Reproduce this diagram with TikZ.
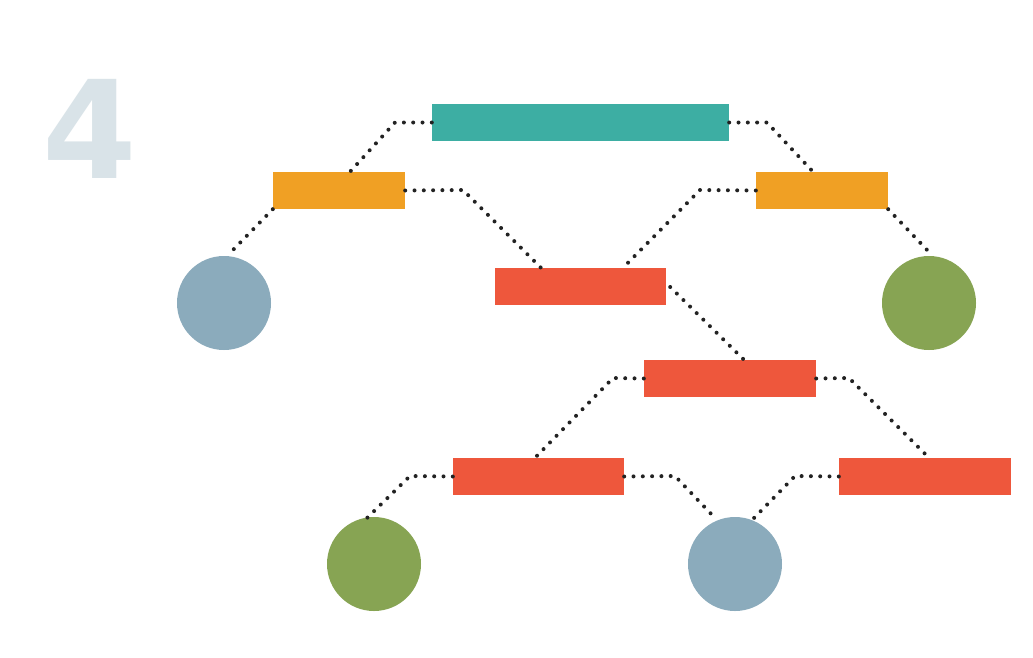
\documentclass[tikz,border=0pt]{standalone}
\usepackage{fontspec}
\newfontfamily\numfont{DejaVu Sans}
\definecolor{teal4}{HTML}{3DAEA3}
\definecolor{orange4}{HTML}{F0A024}
\definecolor{red4}{HTML}{EE573C}
\definecolor{blue4}{HTML}{8BABBC}
\definecolor{green4}{HTML}{87A453}
\definecolor{num4}{HTML}{D9E3E8}
\definecolor{dot4}{HTML}{222222}
\begin{document}
\begin{tikzpicture}[x=1pt,y=-1pt,
  bar/.style={rectangle,inner sep=0pt,minimum height=37pt,draw=none},
  disc/.style={circle,inner sep=0pt,minimum size=94pt,draw=none},
  link/.style={dot4,line width=4pt,line cap=round,dash pattern=on 0pt off 9.3pt}]
\useasboundingbox (0,0) rectangle (1033,657);
\fill[white] (0,0) rectangle (1033,657);
\node[text=num4,inner sep=0pt,anchor=base,font=\numfont\bfseries\fontsize{136}{136}\selectfont] (num) at (90,178) {4};
% bars
\node[bar,fill=teal4,minimum width=297pt] (top) at (580.5,122.5) {};
\node[bar,fill=orange4,minimum width=132pt] (ol) at (339,190.5) {};
\node[bar,fill=orange4,minimum width=132pt] (or) at (822,190.5) {};
\node[bar,fill=red4,minimum width=171pt] (r1) at (580.5,286.5) {};
\node[bar,fill=red4,minimum width=172pt] (r2) at (730,378.5) {};
\node[bar,fill=red4,minimum width=171pt] (r3) at (538.5,476.5) {};
\node[bar,fill=red4,minimum width=172pt] (r4) at (925,476.5) {};
% circles
\node[disc,fill=blue4] (c1) at (224,303) {};
\node[disc,fill=green4] (c2) at (929,303) {};
\node[disc,fill=green4] (c3) at (374,564) {};
\node[disc,fill=blue4] (c4) at (735,564) {};
% connector bends and ends
\coordinate (a1) at (395,122.5);
\coordinate (a2) at (767,122.5);
\coordinate (b1) at (463,190);
\coordinate (b2) at (700,190);
\coordinate (d1) at (613,378);
\coordinate (d2) at (849,378);
\coordinate (e1) at (410,476);
\coordinate (e2) at (675,476);
\coordinate (e3) at (795,476);
\coordinate (k1) at (230,253);
\coordinate (k2) at (930,253);
\coordinate (k3) at (367,518);
\coordinate (k4) at (715,518);
\coordinate (k5) at (754,518);
% connectors
\draw[link] (top.west) -- (a1) -- (ol.north -| 350,0);
\draw[link] (top.east) -- (a2) -- (or.north -| 813,0);
\draw[link] (ol.south west) -- (k1);
\draw[link] (ol.east) -- (b1) -- (r1.north -| 541,0);
\draw[link] (or.west) -- (b2) -- (r1.north -| 623,0);
\draw[link] (or.south east) -- (k2);
\draw[link] ([xshift=4pt]r1.north east |- 0,287) -- (r2.north -| 744,0);
\draw[link] (r2.west) -- (d1) -- (r3.north -| 535,0);
\draw[link] (r2.east) -- (d2) -- (r4.north -| 929,0);
\draw[link] (r3.west) -- (e1) -- (k3);
\draw[link] (r3.east) -- (e2) -- (k4);
\draw[link] (r4.west) -- (e3) -- (k5);
\end{tikzpicture}
\end{document}
